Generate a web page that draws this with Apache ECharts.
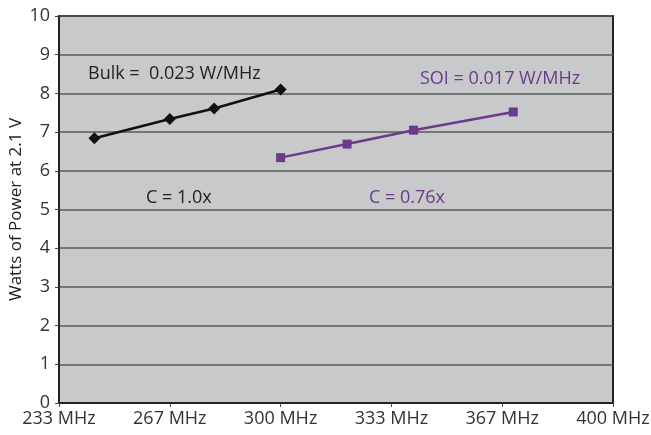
<!DOCTYPE html>
<html>
<head>
<meta charset="utf-8">
<script src="https://cdn.jsdelivr.net/npm/echarts@6/dist/echarts.min.js"></script>
<style>html,body{margin:0;padding:0;background:#fff}#c{width:651px;height:435px}</style>
</head>
<body>
<div id="c"></div>
<script>
var xTickValues = [700/3, 800/3, 300, 1000/3, 1100/3, 400];
var xTickLabels = ['233 MHz', '267 MHz', '300 MHz', '333 MHz', '367 MHz', '400 MHz'];
var bulkMHz = [244, 800/3, 280, 300];
var bulkWatts = [6.84, 7.34, 7.61, 8.10];
var soiMHz = [300, 320, 340, 370];
var soiWatts = [6.34, 6.69, 7.05, 7.52];
var yAxisTitle = 'Watts of Power at 2.1 V';
var notes = ['Bulk =  0.023 W/MHz', 'C = 1.0x', 'SOI = 0.017 W/MHz', 'C = 0.76x'];

var FONT = '"Open Sans", sans-serif';
var PURPLE = '#6b3a8b';

function zip(a, b) { return a.map(function (v, i) { return [v, b[i]]; }); }

var chart = echarts.init(document.getElementById('c'));
chart.setOption({
  animation: false,
  backgroundColor: '#ffffff',
  grid: {
    left: 59, right: 38, top: 16, bottom: 32,
    outerBoundsMode: 'none', containLabel: false,
    show: true, backgroundColor: '#c8c9cb', borderColor: '#222', borderWidth: 2
  },
  xAxis: {
    type: 'value', min: 700/3, max: 400,
    axisLine: { show: true, lineStyle: { color: '#222', width: 2 } },
    axisTick: { show: true, length: 4, lineStyle: { color: '#444' }, customValues: xTickValues },
    axisLabel: {
      customValues: xTickValues, margin: 7,
      color: '#333', fontSize: 18, fontFamily: FONT,
      formatter: function (v) {
        for (var i = 0; i < xTickValues.length; i++) if (Math.abs(xTickValues[i] - v) < 0.01) return xTickLabels[i];
        return '';
      }
    },
    splitLine: { show: false }
  },
  yAxis: {
    type: 'value', min: 0, max: 10, interval: 1,
    name: yAxisTitle, nameLocation: 'middle', nameGap: 34, nameRotate: 90,
    nameMoveOverlap: false,
    nameTextStyle: { color: '#222', fontSize: 17, fontFamily: FONT },
    axisLine: { show: true, lineStyle: { color: '#222', width: 2 } },
    axisTick: { show: true, length: 4, lineStyle: { color: '#444' } },
    axisLabel: { color: '#333', fontSize: 18, fontFamily: FONT, margin: 9 },
    splitLine: { show: true, lineStyle: { color: '#5a5a5a', width: 1.5 } }
  },
  series: [
    {
      type: 'line', data: zip(bulkMHz, bulkWatts),
      symbol: 'diamond', symbolSize: 12,
      lineStyle: { color: '#111', width: 2.5 },
      itemStyle: { color: '#111' }
    },
    {
      type: 'line', data: zip(soiMHz, soiWatts),
      symbol: 'rect', symbolSize: 9,
      lineStyle: { color: PURPLE, width: 2.5 },
      itemStyle: { color: PURPLE }
    }
  ],
  graphic: [
    { type: 'text', left: 88, top: 65, style: { text: notes[0], fill: '#222', font: '18px ' + FONT } },
    { type: 'text', left: 146, top: 189, style: { text: notes[1], fill: '#222', font: '18px ' + FONT } },
    { type: 'text', left: 420, top: 70, style: { text: notes[2], fill: PURPLE, font: '18px ' + FONT } },
    { type: 'text', left: 369, top: 189, style: { text: notes[3], fill: PURPLE, font: '18px ' + FONT } }
  ]
});
</script>
</body>
</html>
